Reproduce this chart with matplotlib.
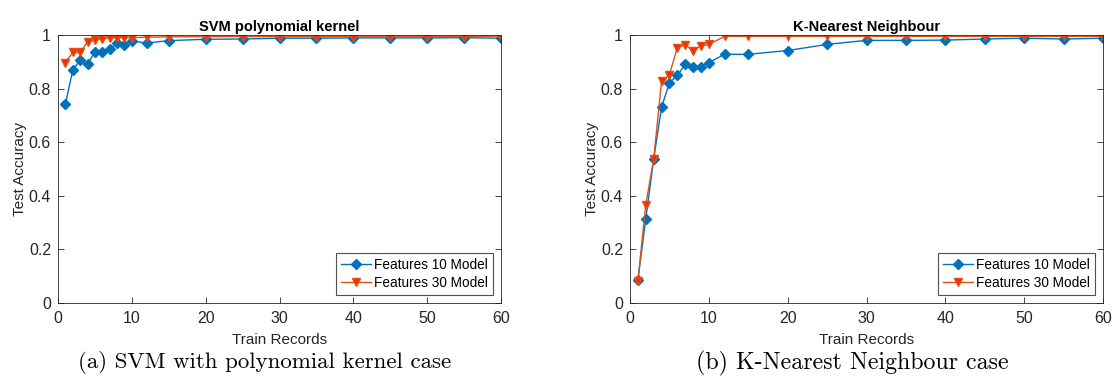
import matplotlib
matplotlib.use("Agg")
import matplotlib.pyplot as plt

plt.rcParams['font.family'] = ['Liberation Sans', 'DejaVu Sans']
plt.rcParams['axes.formatter.use_mathtext'] = False

train_records = [1, 2, 3, 4, 5, 6, 7, 8, 9, 10, 12, 15, 20, 25, 30, 35, 40, 45, 50, 55, 60]

svm_f10 = [0.742, 0.869, 0.907, 0.890, 0.938, 0.935, 0.946, 0.969, 0.963, 0.978, 0.970,
           0.979, 0.984, 0.985, 0.988, 0.988, 0.989, 0.989, 0.989, 0.990, 0.988]
svm_f30 = [0.897, 0.935, 0.935, 0.975, 0.981, 0.985, 0.990, 0.990, 0.990, 0.990, 0.992,
           0.993, 0.994, 0.994, 0.994, 0.994, 0.994, 0.994, 0.994, 0.994, 0.996]

knn_f10 = [0.085, 0.314, 0.536, 0.730, 0.822, 0.849, 0.890, 0.880, 0.882, 0.897, 0.928,
           0.928, 0.942, 0.965, 0.980, 0.980, 0.981, 0.985, 0.988, 0.985, 0.988]
knn_f30 = [0.082, 0.367, 0.536, 0.827, 0.852, 0.952, 0.963, 0.942, 0.959, 0.965, 0.995,
           0.995, 0.995, 0.995, 0.995, 0.995, 0.995, 0.995, 0.995, 0.995, 0.995]

titles = ["SVM polynomial kernel", "K-Nearest Neighbour"]
captions = ["(a) SVM with polynomial kernel case", "(b) K-Nearest Neighbour case"]
legend_labels = ["Features 10 Model", "Features 30 Model"]
xticks = [0, 10, 20, 30, 40, 50, 60]
yticks = [0, 0.2, 0.4, 0.6, 0.8, 1]
ytick_labels = ['0', '0.2', '0.4', '0.6', '0.8', '1']

W, H = 1112, 384
fig = plt.figure(figsize=(W / 100, H / 100), dpi=100)

blue = '#0072BD'
orange = '#D95319'
red = '#FF2A00'
dark = '#262626'

panels = [(svm_f10, svm_f30), (knn_f10, knn_f30)]
axes_px = [(58, 35, 501, 303), (630, 35, 1103, 303)]
caption_x = [265, 852]
caption_size = [16.5, 17.2]

for i, ((f10, f30), (x0, y0, x1, y1)) in enumerate(zip(panels, axes_px)):
    ax = fig.add_axes([x0 / W, 1 - y1 / H, (x1 - x0) / W, (y1 - y0) / H])
    ax.plot(train_records, f10, color=blue, lw=1.0, marker='D', ms=4.8,
            mfc=blue, mec=blue, label=legend_labels[0])
    ax.plot(train_records, f30, color=orange, lw=1.0, marker='v', ms=5.8,
            mfc=red, mec=orange, label=legend_labels[1])
    ax.set_xlim(0, 60)
    ax.set_ylim(0, 1)
    ax.set_xticks(xticks)
    ax.set_yticks(yticks)
    ax.set_yticklabels(ytick_labels)
    ax.tick_params(direction='in', top=True, right=True, labelsize=11.5,
                   colors=dark, length=4, width=0.6)
    ax.tick_params(axis='x', pad=6)
    ax.tick_params(axis='y', pad=5)
    for s in ax.spines.values():
        s.set_color(dark)
        s.set_linewidth(0.6)
    ax.set_title(titles[i], fontsize=10.5, fontweight='bold', pad=3)
    ax.set_xlabel("Train Records", fontsize=11, color=dark, labelpad=5)
    ax.set_ylabel("Test Accuracy", fontsize=11, color=dark, labelpad=1)
    leg = ax.legend(loc='lower right', fontsize=9.8, frameon=True, fancybox=False,
                    edgecolor=dark, borderpad=0.35, handlelength=2.2,
                    handletextpad=0.25, labelspacing=0.3, borderaxespad=0.6,
                    markerscale=1.0)
    leg.get_frame().set_linewidth(0.8)
    fig.text(caption_x[i] / W, 1 - 363 / H, captions[i], ha='center', va='center',
             fontsize=caption_size[i], family=['cmr10', 'DejaVu Serif'])

fig.savefig("out.png", dpi=100)
